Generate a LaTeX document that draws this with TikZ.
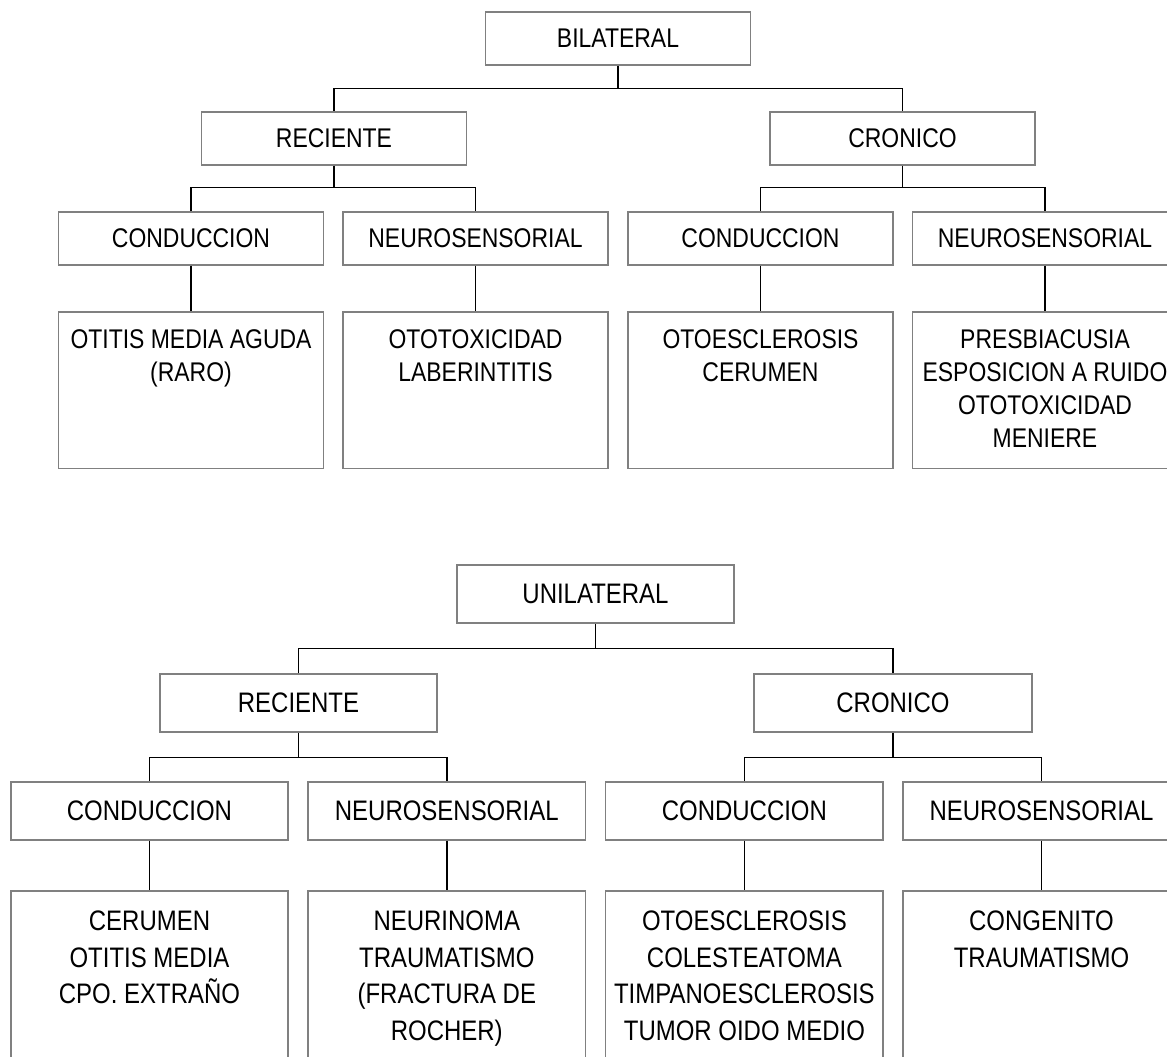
\documentclass[tikz,border=0pt]{standalone}
\usepackage{fontspec}
\setmainfont{Liberation Sans}[FakeStretch=0.85]
\definecolor{boxgray}{RGB}{128,128,128}
\begin{document}
\begin{tikzpicture}[x=1pt,y=-1pt,
  box/.style={draw=boxgray, line width=1.6pt, fill=white, minimum width=265pt, minimum height=53pt, inner sep=0pt, font=\fontsize{27}{33}\selectfont},
  lbox/.style={box, minimum width=277.5pt, minimum height=58pt, font=\fontsize{28.2}{36.5}\selectfont},
  leaf/.style={draw=boxgray, line width=1.6pt, minimum width=265pt, minimum height=156.6pt, inner sep=0pt},
  lleaf/.style={leaf, minimum width=277.5pt, minimum height=220pt},
  ltext/.style={align=center, anchor=north, inner sep=0pt, font=\fontsize{27}{33}\selectfont},
  lltext/.style={ltext, font=\fontsize{28.2}{36.5}\selectfont},
  conn/.style={draw=black, line width=1.6pt}]
\useasboundingbox (0,0) rectangle (1167,1057);
\fill[white] (0,0) rectangle (1167,1057);
\clip (0,0) rectangle (1167,1057);

% ---------- BILATERAL ----------
\node[box] (bil) at (618,38.5) {BILATERAL};
\node[box] (brec) at (334,138.2) {RECIENTE};
\node[box] (bcro) at (902.5,138.2) {CRONICO};
\node[box] (bc1) at (191,238.4) {CONDUCCION};
\node[box] (bn1) at (475.5,238.4) {NEUROSENSORIAL};
\node[box] (bc2) at (760.5,238.4) {CONDUCCION};
\node[box] (bn2) at (1045,238.4) {NEUROSENSORIAL};
\node[leaf] (bl1) at (191,390) {};
\node[leaf] (bl2) at (475.5,390) {};
\node[leaf] (bl3) at (760.5,390) {};
\node[leaf] (bl4) at (1045,390) {};
\node[ltext] (bt1) at (191,329.8) {OTITIS MEDIA AGUDA\\(RARO)};
\node[ltext] (bt2) at (475.5,329.8) {OTOTOXICIDAD\\LABERINTITIS};
\node[ltext] (bt3) at (760.5,329.8) {OTOESCLEROSIS\\CERUMEN};
\node[ltext] (bt4) at (1045,329.8) {PRESBIACUSIA\\ESPOSICION A RUIDO\\OTOTOXICIDAD\\MENIERE};

\coordinate (bj0) at (618,88.3);
\coordinate (bj1) at (334,187.6);
\coordinate (bj2) at (902.5,187.6);
\draw[conn] (bil.south) -- (bj0);
\draw[conn] (brec.north) |- (bj0) -| (bcro.north);
\draw[conn] (brec.south) -- (bj1);
\draw[conn] (bc1.north) |- (bj1) -| (bn1.north);
\draw[conn] (bcro.south) -- (bj2);
\draw[conn] (bc2.north) |- (bj2) -| (bn2.north);
\draw[conn] (bc1.south) -- (bl1.north);
\draw[conn] (bn1.south) -- (bl2.north);
\draw[conn] (bc2.south) -- (bl3.north);
\draw[conn] (bn2.south) -- (bl4.north);

% ---------- UNILATERAL ----------
\node[lbox] (uni) at (595.5,594.2) {UNILATERAL};
\node[lbox] (urec) at (298.5,702.9) {RECIENTE};
\node[lbox] (ucro) at (893,702.9) {CRONICO};
\node[lbox] (uc1) at (149.5,810.7) {CONDUCCION};
\node[lbox] (un1) at (446.8,810.7) {NEUROSENSORIAL};
\node[lbox] (uc2) at (744.4,810.7) {CONDUCCION};
\node[lbox] (un2) at (1041.5,810.7) {NEUROSENSORIAL};
\node[lleaf] (ul1) at (149.5,1000.7) {};
\node[lleaf] (ul2) at (446.8,1000.7) {};
\node[lleaf] (ul3) at (744.4,1000.7) {};
\node[lleaf] (ul4) at (1041.5,1000.7) {};
\node[lltext] (ut1) at (149.5,911) {CERUMEN\\OTITIS MEDIA\\CPO. EXTRAÑO};
\node[lltext] (ut2) at (446.8,911) {NEURINOMA\\TRAUMATISMO\\(FRACTURA DE\\ROCHER)};
\node[lltext] (ut3) at (744.4,911) {OTOESCLEROSIS\\COLESTEATOMA\\TIMPANOESCLEROSIS\\TUMOR OIDO MEDIO};
\node[lltext] (ut4) at (1041.5,911) {CONGENITO\\TRAUMATISMO};

\coordinate (uj0) at (595.5,648.3);
\coordinate (uj1) at (298.5,757.3);
\coordinate (uj2) at (893,757.3);
\draw[conn] (uni.south) -- (uj0);
\draw[conn] (urec.north) |- (uj0) -| (ucro.north);
\draw[conn] (urec.south) -- (uj1);
\draw[conn] (uc1.north) |- (uj1) -| (un1.north);
\draw[conn] (ucro.south) -- (uj2);
\draw[conn] (uc2.north) |- (uj2) -| (un2.north);
\draw[conn] (uc1.south) -- (ul1.north);
\draw[conn] (un1.south) -- (ul2.north);
\draw[conn] (uc2.south) -- (ul3.north);
\draw[conn] (un2.south) -- (ul4.north);
\end{tikzpicture}
\end{document}
